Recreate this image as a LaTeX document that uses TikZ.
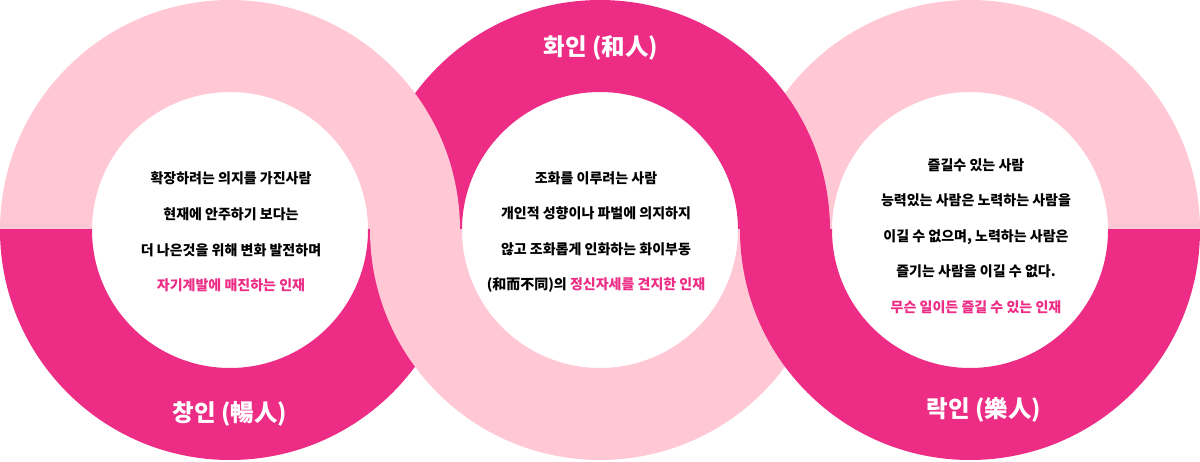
\documentclass[tikz,border=0pt]{standalone}
\usepackage{fontspec}
\setmainfont{Noto Sans CJK KR}
\definecolor{lightpink}{HTML}{FFC8D4}
\definecolor{darkpink}{HTML}{EC2C85}
\tikzset{
  body/.style={align=center, text=black, font=\fontsize{14}{35.6}\selectfont\bfseries, inner sep=0pt},
  title/.style={text=white, font=\fontsize{23.5}{26}\selectfont\bfseries, inner sep=0pt}
}
\newcommand{\acc}[1]{\textcolor{darkpink}{#1}}
\begin{document}
\begin{tikzpicture}[x=1pt,y=-1pt]
\useasboundingbox (0,0) rectangle (1200,461);
% top halves
\begin{scope}
  \clip (0,0) rectangle (1200,230.4);
  \fill[lightpink, even odd rule] (970,230) circle[radius=230] (970,230) circle[radius=138];
  \fill[darkpink, even odd rule] (600,230) circle[radius=230] (600,230) circle[radius=138];
  \fill[lightpink, even odd rule] (230,230) circle[radius=230] (230,230) circle[radius=138];
\end{scope}
% bottom halves
\begin{scope}
  \clip (0,229.6) rectangle (1200,461);
  \fill[darkpink, even odd rule] (230,230) circle[radius=230] (230,230) circle[radius=138];
  \fill[lightpink, even odd rule] (600,230) circle[radius=230] (600,230) circle[radius=138];
  \fill[darkpink, even odd rule] (970,230) circle[radius=230] (970,230) circle[radius=138];
\end{scope}
% titles
\node[title] (t1) at (230,414) {창인 (暢人)};
\node[title] (t2) at (601,48) {화인 (和人)};
\node[title] (t3) at (984,410) {락인 (樂人)};
% body texts
\node[body] (b1) at (231,232) {확장하려는 의지를 가진사람\\현재에 안주하기 보다는\\더 나은것을 위해 변화 발전하며\\\acc{자기계발에 매진하는 인재}};
\node[body] (b2) at (596,232) {조화를 이루려는 사람\\개인적 성향이나 파벌에 의지하지\\않고 조화롭게 인화하는 화이부동\\(和而不同)의 \acc{정신자세를 견지한 인재}};
\node[body] (b3) at (976,236) {즐길수 있는 사람\\능력있는 사람은 노력하는 사람을\\이길 수 없으며, 노력하는 사람은\\즐기는 사람을 이길 수 없다.\\\acc{무슨 일이든 즐길 수 있는 인재}};
\end{tikzpicture}
\end{document}
